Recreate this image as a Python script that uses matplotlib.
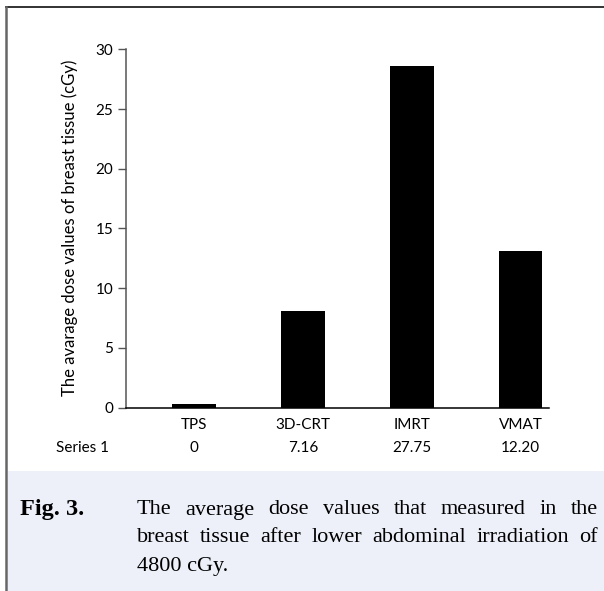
import matplotlib
matplotlib.use("Agg")
import matplotlib.pyplot as plt
from matplotlib.patches import Rectangle
from matplotlib.lines import Line2D

# --- data ---------------------------------------------------------------
categories = ["TPS", "3D-CRT", "IMRT", "VMAT"]
bar_heights = [0.3, 8.1, 28.6, 13.1]          # heights as drawn
table_values = ["0", "7.16", "27.75", "12.20"]  # data-table row under the axis
series_name = "Series 1"
yticks = [0, 5, 10, 15, 20, 25, 30]
ylabel = "The avarage dose values of breast tissue (cGy)"
caption_lines = [
    "The average dose values that measured in the",
    "breast tissue after lower abdominal irradiation of",
    "4800 cGy.",
]

# --- figure -------------------------------------------------------------
W, H = 604, 591
fig = plt.figure(figsize=(W / 100, H / 100), dpi=100)


def fx(px):
    return px / W


def fy(py):
    return 1 - py / H


sans = ["Lato", "DejaVu Sans"]
serif = ["Liberation Serif", "DejaVu Serif"]

# caption panel and frame
fig.patches.append(Rectangle((fx(8), 0), 1 - fx(8), fy(471), transform=fig.transFigure,
                             facecolor="#edf0f9", edgecolor="none", zorder=0))
fig.add_artist(Line2D([fx(6), 1], [fy(7), fy(7)], color="#222222", lw=1.3))
fig.add_artist(Line2D([fx(6), fx(6)], [fy(7), 0], color="#666666", lw=1.8))

# --- chart --------------------------------------------------------------
ax = fig.add_axes([fx(126), fy(407.5), fx(549) - fx(126), fy(49.3) - fy(407.5)])
x = list(range(len(categories)))
ax.bar(x, bar_heights, width=0.4, color="black")
ax.set_xlim(-0.624, 3.26)
ax.set_ylim(0, 30)
ax.set_yticks(yticks)
ax.set_yticklabels([str(t) for t in yticks], fontfamily=sans, fontsize=11)
ax.set_xticks([])
ax.tick_params(axis="y", direction="out", length=5.8, width=1, color="#555555", pad=3.5)
for s in ("top", "right"):
    ax.spines[s].set_visible(False)
ax.spines["left"].set_color("#555555")
ax.spines["left"].set_linewidth(1.1)
ax.spines["bottom"].set_color("black")
ax.spines["bottom"].set_linewidth(1.1)
ax.set_facecolor("none")

trans = ax.get_xaxis_transform()
for xi, cat, val in zip(x, categories, table_values):
    ax.text(xi, -0.049, cat, transform=trans, ha="center", va="center",
            fontfamily=sans, fontsize=11, clip_on=False)
    ax.text(xi, -0.113, val, transform=trans, ha="center", va="center",
            fontfamily=sans, fontsize=11, clip_on=False)
fig.text(fx(83), fy(448), series_name, ha="center", va="center", fontfamily=sans, fontsize=11)
fig.text(fx(70), fy(228), ylabel, rotation=90, ha="center", va="center",
         fontfamily=sans, fontsize=12)

# --- caption ------------------------------------------------------------
cap_kw = dict(fontfamily=serif, fontsize=16, va="center", ha="left")
fig.text(fx(20), fy(510), "Fig. 3.", fontweight="bold", fontfamily=serif,
         fontsize=17.5, va="center", ha="left")


def justify(line, x0, x1, y):
    words = line.split()
    objs = [fig.text(fx(x0), fy(y), w, **cap_kw) for w in words]
    fig.canvas.draw()
    r = fig.canvas.get_renderer()
    widths = [o.get_window_extent(r).width for o in objs]
    gap = (x1 - x0 - sum(widths)) / (len(words) - 1)
    pos = x0
    for o, wd in zip(objs, widths):
        o.set_x(fx(pos))
        pos += wd + gap


justify(caption_lines[0], 137, 598, 510)
justify(caption_lines[1], 137, 598, 538)
fig.text(fx(137), fy(566), caption_lines[2], **cap_kw)

fig.savefig("out.png", dpi=100)
